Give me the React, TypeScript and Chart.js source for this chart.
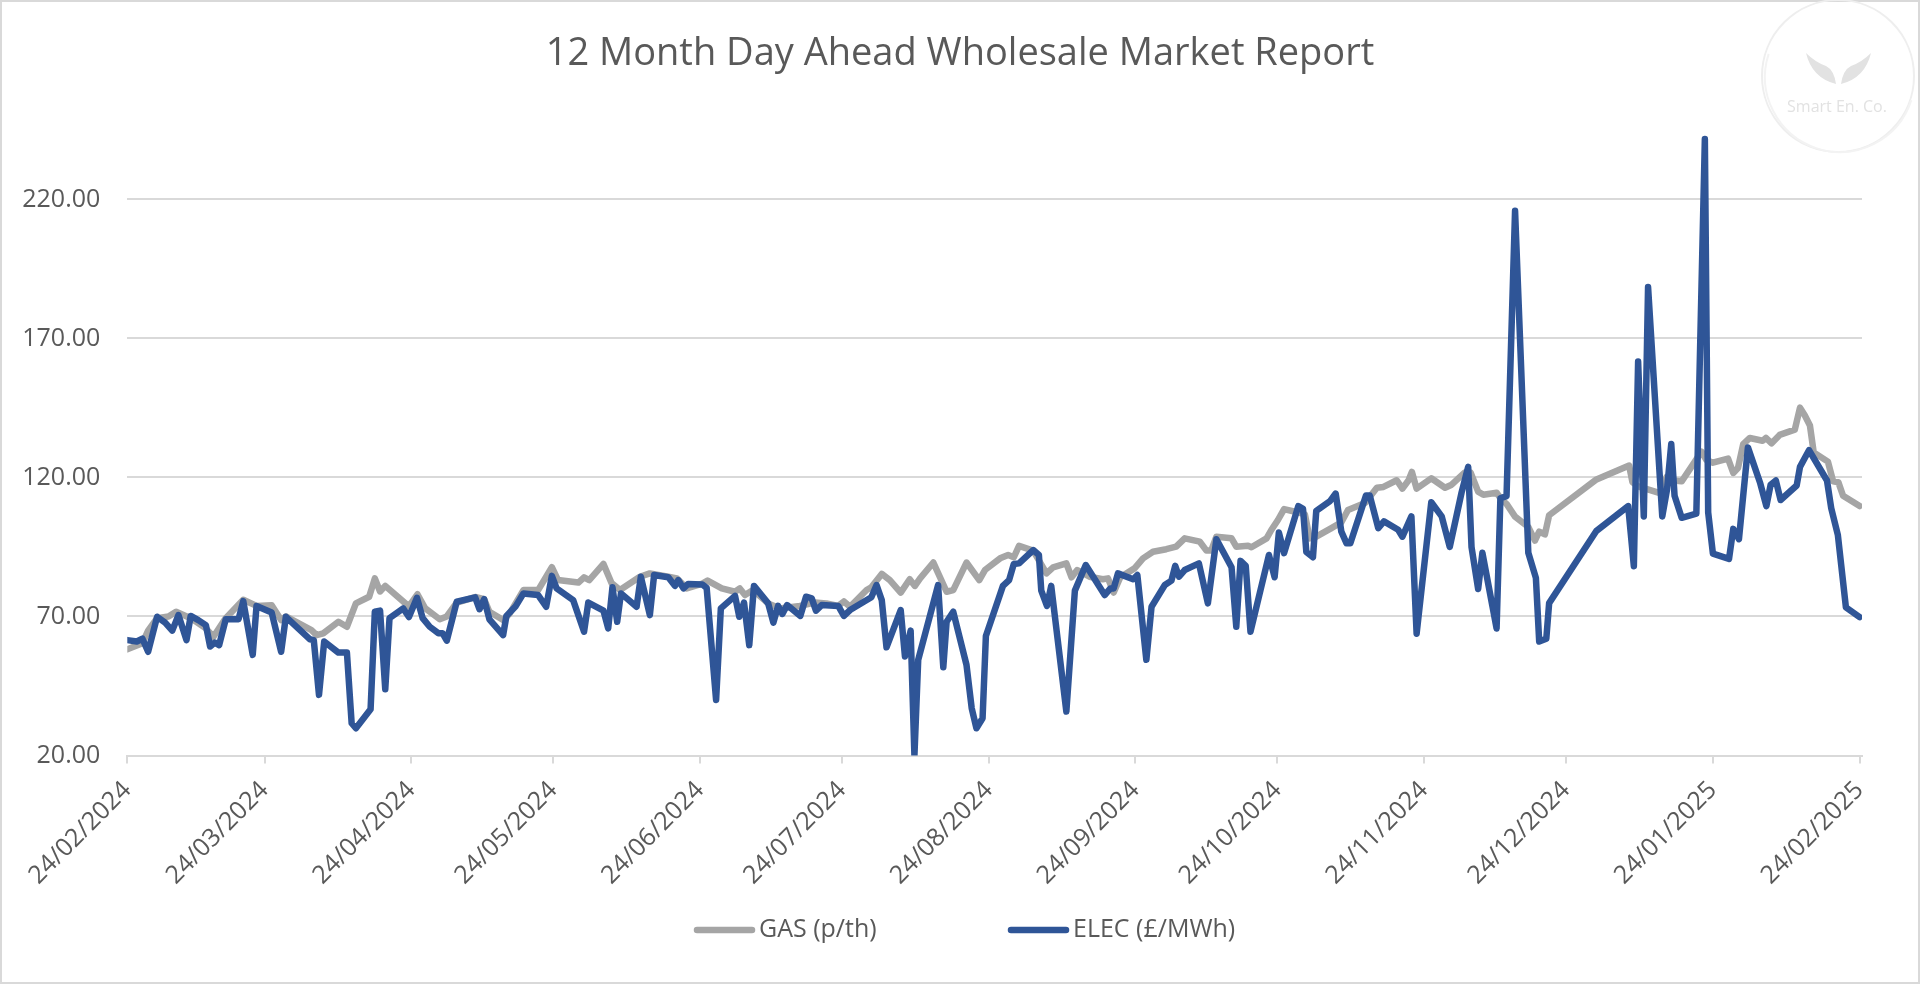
import React, { useEffect, useRef } from "react";
import { Chart, registerables } from "chart.js";

Chart.register(...registerables);

const chartTitle = "12 Month Day Ahead Wholesale Market Report";
const gasLabel = "GAS (p/th)";
const elecLabel = "ELEC (£/MWh)";
const watermarkText = "Smart En. Co.";

const tickLabels = [
  "24/02/2024", "24/03/2024", "24/04/2024", "24/05/2024", "24/06/2024", "24/07/2024",
  "24/08/2024", "24/09/2024", "24/10/2024", "24/11/2024", "24/12/2024", "24/01/2025", "24/02/2025",
];
const yTickValues = [20, 70, 120, 170, 220];

// days after 24/02/2024
const gasDays = [
  0, 3.2, 4.4, 6.3, 8.7, 10.3, 13.4, 16.6, 18.2, 20.8, 24.5, 27.3, 30.5, 32.5, 33.5, 38.9, 40, 41.4, 44.6, 46.4,
  48.3, 51.1, 52.3, 53.4, 54.5, 58.3, 59.5, 61.3, 62.9, 66, 67.5, 69.6, 73.5, 75.4, 76.5, 79.4, 80.8, 83.7, 86.8, 89.7,
  91, 95.3, 96.5, 97.6, 100.6, 102.3, 104.1, 108.3, 110.4, 114.3, 116.1, 118.2, 121.5, 122.6, 125.6, 128.4, 129.4, 130.5, 132.2, 135.4,
  137.9, 142.1, 145.3, 147.7, 150.2, 151.4, 152.7, 156.2, 157.2, 159.4, 161.1, 163.4, 165.3, 166.4, 167.5, 170.3, 173.1, 174.5, 177.3, 180,
  181.2, 184.4, 186.1, 187.3, 188.4, 191.4, 194.2, 195.6, 198.4, 199.5, 200.7, 203.3, 206.1, 207.2, 208.4, 209.8, 212.8, 214.6, 216.7, 219.5,
  221.6, 223.4, 226.6, 228, 229, 230.1, 233.3, 234.3, 236.8, 237.5, 240.7, 241.7, 243.1, 244.4, 247.4, 248.8, 249.8, 251.2, 254.4, 256.5,
  257.9, 261.5, 264, 265.4, 268.2, 269.4, 270.7, 271.4, 272.4, 275.5, 278.4, 279.8, 282.6, 283.8, 285.4, 286.5, 289.3, 290.3, 291.4, 293.2,
  296, 297.4, 298.3, 299.5, 300.4, 310.4, 317.3, 318, 319.2, 323.8, 325.2, 326.6, 328.4, 332.6, 333.6, 335, 338.2, 339.3, 340.3, 341.4,
  342.8, 345.5, 346.2, 347.4, 349.1, 352.3, 353.4, 354.4, 355.5, 356.3, 359.3, 360.4, 361.5, 362.5, 366,
];
const gasValues = [
  58.2, 60.4, 64.9, 69.4, 70, 71.7, 69.4, 65.7, 62.7, 69.4, 76, 73.8, 74, 68.7, 70, 65.1, 63.3, 63.9, 68.1, 66.3,
  74.7, 77.1, 83.7, 79, 81, 75.4, 73.6, 78, 73, 69, 70, 75, 77, 76.2, 71.7, 68.7, 71.1, 79.5, 79.5, 87.7,
  83.1, 82.2, 84.1, 83.1, 88.9, 82, 79.5, 84.3, 85.5, 84.3, 83.7, 80.1, 81.8, 82.9, 80.1, 78.9, 80.1, 77.7, 79.5, 74.7,
  72.9, 73.8, 75, 74.7, 73.8, 75.4, 73.5, 79.5, 80.5, 85.3, 83.1, 78.6, 83.4, 81, 83.7, 89.4, 78.9, 79.5, 89.4, 83.1,
  86.7, 90.9, 92.1, 91.3, 95.4, 93.7, 85.5, 87.7, 89.1, 84.1, 86.7, 84.3, 83.4, 83.7, 78.6, 84.1, 87.3, 90.9, 93.3, 94.2,
  95.1, 98.1, 96.9, 93.7, 93.7, 98.7, 98.1, 95.1, 95.4, 94.9, 98.1, 101.1, 104.7, 108.6, 107.4, 106.7, 98.1, 98.7, 101.8, 103.9,
  108.3, 110.8, 116.3, 116.6, 119, 116, 119, 122, 116, 119.7, 116.3, 117.4, 121.8, 121.8, 114.9, 113.8, 114.5, 112.1, 110.5, 105.9,
  102.2, 97.3, 100.5, 99.5, 106.4, 119.3, 124.3, 118.3, 116.8, 114.4, 120.1, 118.9, 118.6, 129.3, 126.3, 125.3, 126.8, 121.6, 123.4, 132,
  134.2, 133.2, 134.2, 132.3, 135.3, 137.2, 145.1, 142.4, 138.7, 129, 125.7, 118.6, 118.3, 113.4, 109.7,
];

const elecDays = [
  0, 2, 3.2, 4.4, 6.3, 8, 9.5, 10.8, 12.5, 13.4, 15, 16.6, 17.5, 18.5, 19.4, 20.8, 23.5, 24.5, 26.5, 27.3,
  30.5, 32.5, 33.5, 38.6, 39.4, 40.5, 41.6, 44.6, 46.4, 47.4, 48.3, 51.4, 52.3, 53.4, 54.5, 55.4, 58.3, 59.5, 61.2, 62.4,
  63.9, 65.7, 66.6, 67.5, 69.6, 73.5, 74.4, 75.4, 76.5, 79.4, 80.1, 82.1, 83.7, 86.8, 88.5, 89.7, 90.7, 94.2, 96.5, 97.4,
  100.6, 101.6, 102.5, 103.5, 104.3, 107.6, 108.5, 110.4, 111.3, 114.3, 115.7, 116.4, 117.5, 118.5, 121.5, 122.4, 124.4, 125.4, 128.4, 129.3,
  130.3, 131.4, 132.4, 135.4, 136.5, 137.5, 138.4, 139.4, 142.2, 143.4, 144.6, 145.5, 146.7, 150.2, 151.4, 152.7, 157.2, 158.3, 159.4, 160.4,
  163.4, 164.3, 165.5, 166.3, 167.1, 171.3, 172.4, 173.1, 174.5, 177.3, 178.4, 179.4, 180.7, 181.4, 185, 186.3, 187.3, 188.4, 191.4, 192.6,
  193.1, 194.3, 195.2, 198.4, 200.2, 202.5, 206.5, 207.7, 208.4, 209.3, 212.5, 213.4, 215.3, 216.4, 219.2, 220.6, 221.4, 222.2, 223.4, 226.4,
  228.3, 230.1, 233.3, 234.3, 235.2, 236.3, 237.3, 241.2, 242.4, 243.3, 244.4, 247.4, 248.4, 249.1, 250.5, 251.2, 254.1, 255.3, 256.5, 257.6,
  258.4, 261.7, 262.5, 264.3, 265.5, 268.5, 269.4, 271.3, 272.4, 275.5, 277.7, 279.4, 281.9, 283.3, 284, 285.4, 286.3, 289.3, 290.1, 291.4,
  293.2, 296, 297.6, 298.3, 299.8, 300.4, 310.4, 317.1, 318.3, 319.2, 320.4, 321.3, 324.3, 325.3, 326.2, 326.9, 328.4, 331.5, 333.3, 334,
  335, 338.4, 339.3, 340.5, 342.4, 345, 346.3, 347.2, 348.3, 349.3, 352.7, 353.4, 355.3, 359.1, 360, 361.4, 363.1, 366,
];
const elecValues = [
  61.5, 61, 62, 57.3, 69.9, 67.8, 64.9, 70.5, 61.5, 70.2, 68.7, 66.9, 59.2, 60.6, 59.7, 69, 69, 75.5, 56.2, 73.8,
  71.4, 57.3, 69.9, 61.8, 61.5, 41.8, 61, 57, 57, 31.6, 29.8, 36.6, 71.7, 72.1, 43.8, 69.4, 72.9, 69.8, 76.7, 69.4,
  66.3, 64, 64, 61.3, 75.3, 76.9, 72.6, 76.2, 69, 63.3, 70.2, 73.8, 78.3, 77.7, 73.5, 84.6, 80.1, 75.9, 64.5, 75,
  72.1, 65.7, 80.5, 68.1, 78.3, 73.5, 84.3, 70.5, 84.9, 84.1, 81, 83.1, 80.1, 81.7, 81.5, 80.3, 40, 72.9, 77.4, 69.9,
  75, 59.7, 81, 74.7, 67.8, 73.8, 70.9, 74.1, 70.2, 77.1, 76.5, 72.1, 74.1, 73.8, 70.2, 72.3, 76.9, 81.3, 75.9, 58.9,
  72.3, 55.6, 64.9, 20, 54.4, 81.3, 51.7, 68.1, 71.7, 52.6, 37, 29.8, 33.4, 63, 81, 83.1, 88.9, 89.1, 93.9, 92.1,
  79.3, 73.8, 81, 35.8, 79.3, 88.5, 77.7, 80.1, 80.1, 85.5, 83.4, 84.9, 54.4, 73.5, 81.3, 82.9, 88.2, 84.3, 86.7, 89.1,
  74.7, 97.8, 87.7, 66.3, 90, 88.2, 64.5, 92.1, 84.1, 100.2, 92.8, 109.7, 108.7, 93.2, 91.3, 108, 111.5, 114.2, 100.5, 96.3,
  96.3, 113.5, 113.5, 101.8, 104.2, 101.2, 98.7, 106, 63.8, 111.1, 106, 95, 114.6, 123.8, 95, 79.9, 92.9, 65.7, 112.5, 113.3,
  215.9, 92.9, 83.9, 61, 62, 74.8, 100.8, 109.7, 88.1, 161.7, 106, 188.5, 106, 115.6, 132, 113.4, 105.5, 107, 241.7, 107.4,
  92.6, 90.7, 101.5, 97.8, 130.8, 117.9, 109.7, 117.4, 118.9, 111.9, 117.1, 123.8, 129.8, 118.9, 108.9, 99.3, 73.3, 69.8,
];

const GAS_COLOR = "#a5a5a5";
const ELEC_COLOR = "#2f5597";
const TEXT_COLOR = "#595959";
const GRID_COLOR = "#d9d9d9";
const FONT = '"Open Sans", "Liberation Sans", sans-serif';

function dayOffset(label: string): number {
  const [d, m, y] = label.split("/").map(Number);
  const [d0, m0, y0] = tickLabels[0].split("/").map(Number);
  return (Date.UTC(y, m - 1, d) - Date.UTC(y0, m0 - 1, d0)) / 86400000;
}

const tickDays = tickLabels.map(dayOffset);

const framePlugin = {
  id: "frameBg",
  beforeDraw(chart: any) {
    const { ctx, width, height } = chart;
    ctx.save();
    ctx.fillStyle = "#ffffff";
    ctx.fillRect(0, 0, width, height);
    ctx.strokeStyle = GRID_COLOR;
    ctx.lineWidth = 2;
    ctx.strokeRect(1, 1, width - 2, height - 2);

    // watermark logo
    const cx = width - 82;
    const cy = 76;
    ctx.strokeStyle = "#eeeeee";
    ctx.lineWidth = 2;
    ctx.beginPath();
    ctx.arc(cx, cy, 76, 0, Math.PI * 2);
    ctx.stroke();
    ctx.strokeStyle = "#f3f3f3";
    ctx.beginPath();
    ctx.arc(cx + 2, cy + 1, 75, Math.PI * 0.1, Math.PI * 1.1);
    ctx.stroke();
    ctx.fillStyle = "#e2e2e2";
    ctx.beginPath();
    ctx.moveTo(cx - 32, cy - 23);
    ctx.quadraticCurveTo(cx - 26, cy + 2, cx - 2, cy + 8);
    ctx.quadraticCurveTo(cx - 4, cy - 6, cx - 12, cy - 10);
    ctx.quadraticCurveTo(cx - 23, cy - 14, cx - 32, cy - 23);
    ctx.fill();
    ctx.beginPath();
    ctx.moveTo(cx + 33, cy - 23);
    ctx.quadraticCurveTo(cx + 27, cy + 2, cx + 3, cy + 8);
    ctx.quadraticCurveTo(cx + 5, cy - 6, cx + 13, cy - 10);
    ctx.quadraticCurveTo(cx + 24, cy - 14, cx + 33, cy - 23);
    ctx.fill();
    ctx.fillStyle = "#e2e2e2";
    ctx.font = `16px ${FONT}`;
    ctx.textAlign = "center";
    ctx.textBaseline = "middle";
    ctx.fillText(watermarkText, cx - 1, cy + 31);
    ctx.restore();
  },
};

const lineLegendPlugin = {
  id: "lineLegend",
  afterDraw(chart: any) {
    const { ctx, width, height } = chart;
    const cx = width / 2;
    const y = height - 54;
    const starts = [cx - 266, cx + 48];
    chart.data.datasets.forEach((ds: any, i: number) => {
      const x0 = starts[i];
      ctx.save();
      ctx.strokeStyle = ds.borderColor;
      ctx.lineWidth = 6.5;
      ctx.lineCap = "round";
      ctx.beginPath();
      ctx.moveTo(x0 + 3, y);
      ctx.lineTo(x0 + 58, y);
      ctx.stroke();
      ctx.fillStyle = TEXT_COLOR;
      ctx.font = `25px ${FONT}`;
      ctx.textAlign = "left";
      ctx.textBaseline = "middle";
      ctx.fillText(ds.label, x0 + 65, y);
      ctx.restore();
    });
  },
};

export default function App() {
  const canvasRef = useRef<HTMLCanvasElement | null>(null);

  useEffect(() => {
    const canvas = canvasRef.current;
    if (!canvas) return;
    const chart = new Chart(canvas, {
      type: "line",
      data: {
        datasets: [
          {
            label: gasLabel,
            data: gasDays.map((d, i) => ({ x: d, y: gasValues[i] })),
            borderColor: GAS_COLOR,
            backgroundColor: GAS_COLOR,
            borderWidth: 6.5,
            pointRadius: 0,
            tension: 0,
            borderJoinStyle: "round",
            borderCapStyle: "round",
            order: 2,
          },
          {
            label: elecLabel,
            data: elecDays.map((d, i) => ({ x: d, y: elecValues[i] })),
            borderColor: ELEC_COLOR,
            backgroundColor: ELEC_COLOR,
            borderWidth: 6.5,
            pointRadius: 0,
            tension: 0,
            borderJoinStyle: "round",
            borderCapStyle: "round",
            order: 1,
          },
        ],
      },
      options: {
        animation: false,
        responsive: true,
        maintainAspectRatio: false,
        layout: { padding: { left: 0, right: 0, top: 0, bottom: 78.5 } },
        plugins: {
          legend: { display: false },
          tooltip: { enabled: false },
          title: {
            display: true,
            text: chartTitle,
            color: TEXT_COLOR,
            font: { family: FONT, size: 38, weight: "normal" },
            padding: { top: 31, bottom: 39.4 },
          },
        },
        scales: {
          x: {
            type: "linear",
            min: 0,
            max: 366.5,
            afterBuildTicks: (scale: any) => {
              scale.ticks = tickDays.map((v) => ({ value: v }));
            },
            afterFit: (scale: any) => {
              scale.height = 150;
            },
            ticks: {
              autoSkip: false,
              minRotation: 45,
              maxRotation: 45,
              padding: 12,
              color: TEXT_COLOR,
              font: { family: FONT, size: 25 },
              callback: (value: any) => {
                const idx = tickDays.findIndex((d) => Math.abs(d - Number(value)) < 0.01);
                return idx >= 0 ? tickLabels[idx] : "";
              },
            },
            grid: {
              display: true,
              drawOnChartArea: false,
              drawTicks: true,
              tickLength: 8,
              color: GRID_COLOR,
              lineWidth: 2,
            },
            border: { display: true, color: GRID_COLOR, width: 2 },
          },
          y: {
            type: "linear",
            min: 20,
            max: 250,
            afterBuildTicks: (scale: any) => {
              scale.ticks = yTickValues.map((v) => ({ value: v }));
            },
            afterFit: (scale: any) => {
              scale.width = 127.3;
            },
            ticks: {
              padding: 27,
              color: TEXT_COLOR,
              font: { family: FONT, size: 25 },
              callback: (value: any) => Number(value).toFixed(2),
            },
            grid: { color: GRID_COLOR, lineWidth: 2, drawTicks: false },
            border: { display: false },
          },
          yRight: {
            type: "linear",
            position: "right",
            min: 0,
            max: 1,
            afterFit: (scale: any) => {
              scale.width = 58;
            },
            ticks: { display: false },
            grid: { display: false, drawTicks: false },
            border: { display: false },
          },
        },
      },
      plugins: [framePlugin, lineLegendPlugin],
    });
    return () => chart.destroy();
  }, []);

  return (
    <div style={{ position: "absolute", left: 0, top: 0, width: "1920px", height: "984px", background: "#fff" }}>
      <canvas ref={canvasRef} />
    </div>
  );
}
